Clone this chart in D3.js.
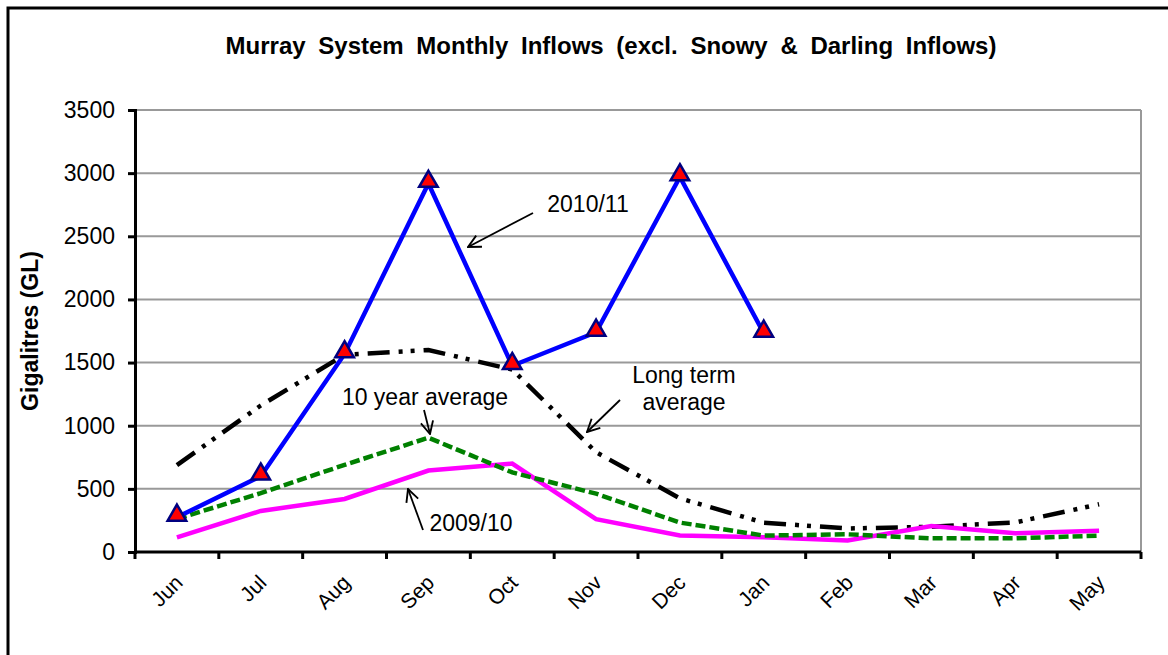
<!DOCTYPE html>
<html>
<head>
<meta charset="utf-8">
<script src="https://cdn.jsdelivr.net/npm/d3@7"></script>
<style>
  body { margin: 0; background: #fff; }
  svg { display: block; font-family: "Liberation Sans", Arial, sans-serif; }
</style>
</head>
<body>
<div id="chart"></div>
<script>
// chart data
const months = ["Jun", "Jul", "Aug", "Sep", "Oct", "Nov", "Dec", "Jan", "Feb", "Mar", "Apr", "May"];
const inflow1011 = [275, 600, 1568, 2918, 1475, 1740, 2970, 1732, null, null, null, null];
const inflow0910 = [115, 325, 420, 645, 700, 260, 130, 117, 92, 205, 148, 168];
const tenYearAvg = [262, 466, 690, 905, 630, 462, 233, 130, 140, 108, 108, 130];
const longTermAvg = [688, 1160, 1562, 1600, 1445, 790, 425, 232, 186, 200, 234, 378];
const yTicks = [0, 500, 1000, 1500, 2000, 2500, 3000, 3500];

const W = 1168, H = 655;
const m = { left: 135, right: 27, top: 110, bottom: 103 };

const svg = d3.select("#chart").append("svg")
  .attr("width", W)
  .attr("height", H);

// outer chart frame
svg.append("rect")
  .attr("x", 8).attr("y", 8)
  .attr("width", W + 20).attr("height", H + 20)
  .attr("fill", "none").attr("stroke", "#000").attr("stroke-width", 3);

const x = d3.scaleBand()
  .domain(months)
  .range([m.left, W - m.right])
  .padding(0);

const y = d3.scaleLinear()
  .domain([0, 3500])
  .range([H - m.bottom, m.top]);

const cx = d => x(d) + x.bandwidth() / 2;

// gridlines
svg.append("g")
  .selectAll("line")
  .data(yTicks.filter(d => d > 0))
  .enter()
  .append("line")
  .attr("x1", m.left).attr("x2", W - m.right)
  .attr("y1", d => y(d)).attr("y2", d => y(d))
  .attr("stroke", "#999").attr("stroke-width", 2);

// right border of plot area
svg.append("line")
  .attr("x1", W - m.right).attr("x2", W - m.right)
  .attr("y1", m.top).attr("y2", H - m.bottom)
  .attr("stroke", "#999").attr("stroke-width", 2);

// y axis
const yAxis = svg.append("g")
  .attr("transform", `translate(${m.left},0)`)
  .call(d3.axisLeft(y).tickValues(yTicks).tickSize(7).tickPadding(13).tickFormat(d3.format("d")));
yAxis.select(".domain").attr("stroke-width", 3);
yAxis.selectAll(".tick line").attr("stroke-width", 3);
yAxis.selectAll("text").attr("font-size", 23).attr("fill", "#000");

// x axis: ticks at category boundaries
const xAxis = svg.append("g")
  .attr("transform", `translate(0,${H - m.bottom})`)
  .call(d3.axisBottom(x).tickSize(0).tickPadding(0));
xAxis.select(".domain").attr("stroke-width", 3).attr("d", `M${m.left},0H${W - m.right}`);
xAxis.selectAll(".tick line").remove();
xAxis.selectAll(".tick text")
  .attr("font-size", 21)
  .attr("fill", "#000")
  .attr("text-anchor", "end")
  .attr("dy", 0)
  .attr("transform", "translate(7,32) rotate(-45)");
svg.append("g")
  .selectAll("line")
  .data(months.concat(["end"]))
  .enter()
  .append("line")
  .attr("x1", (d, i) => m.left + i * x.bandwidth())
  .attr("x2", (d, i) => m.left + i * x.bandwidth())
  .attr("y1", H - m.bottom).attr("y2", H - m.bottom + 7)
  .attr("stroke", "#000").attr("stroke-width", 3);

const line = d3.line()
  .defined(d => d.v != null)
  .x(d => cx(d.m))
  .y(d => y(d.v));

const pack = arr => months.map((mo, i) => ({ m: mo, v: arr[i] }));

svg.append("path")
  .datum(pack(longTermAvg))
  .attr("d", line)
  .attr("fill", "none").attr("stroke", "#000").attr("stroke-width", 4.5)
  .attr("stroke-dasharray", "22,9,4,8,4,9");

svg.append("path")
  .datum(pack(inflow0910))
  .attr("d", line)
  .attr("fill", "none").attr("stroke", "#ff00ff").attr("stroke-width", 4.5);

svg.append("path")
  .datum(pack(tenYearAvg))
  .attr("d", line)
  .attr("fill", "none").attr("stroke", "#008000").attr("stroke-width", 4.5)
  .attr("stroke-dasharray", "10,4");

svg.append("path")
  .datum(pack(inflow1011))
  .attr("d", line)
  .attr("fill", "none").attr("stroke", "#0000ff").attr("stroke-width", 4.5);

svg.append("g")
  .selectAll("path")
  .data(pack(inflow1011).filter(d => d.v != null))
  .enter()
  .append("path")
  .attr("d", d3.symbol().type(d3.symbolTriangle).size(150))
  .attr("transform", d => `translate(${cx(d.m)},${y(d.v) - 2})`)
  .attr("fill", "#ff0000").attr("stroke", "#000080").attr("stroke-width", 2.5);

// title and axis title
svg.append("text")
  .attr("x", 611).attr("y", 54)
  .attr("text-anchor", "middle")
  .attr("font-size", 24).attr("font-weight", "bold")
  .attr("word-spacing", 6)
  .text("Murray System Monthly Inflows (excl. Snowy & Darling Inflows)");

svg.append("text")
  .attr("transform", "translate(38,331) rotate(-90)")
  .attr("text-anchor", "middle")
  .attr("font-size", 23).attr("font-weight", "bold")
  .text("Gigalitres (GL)");

// annotations with arrows
svg.append("defs").append("marker")
  .attr("id", "arrow")
  .attr("viewBox", "0 0 12 12")
  .attr("refX", 11).attr("refY", 6)
  .attr("markerWidth", 15).attr("markerHeight", 15)
  .attr("markerUnits", "userSpaceOnUse")
  .attr("orient", "auto")
  .append("path")
  .attr("d", "M1,1L11,6L1,11")
  .attr("fill", "none").attr("stroke", "#000").attr("stroke-width", 1.5);

const notes = [
  { lines: ["2010/11"], tx: 588, ty: 212, x1: 533, y1: 213, x2: 468, y2: 247 },
  { lines: ["10 year average"], tx: 425, ty: 405, x1: 424, y1: 410, x2: 430, y2: 434 },
  { lines: ["2009/10"], tx: 471, ty: 531, x1: 423, y1: 530, x2: 408, y2: 489 },
  { lines: ["Long term", "average"], tx: 684, ty: 383, x1: 620, y1: 400, x2: 587, y2: 432 }
];

notes.forEach(n => {
  const t = svg.append("text")
    .attr("x", n.tx).attr("y", n.ty)
    .attr("text-anchor", "middle")
    .attr("font-size", 23);
  n.lines.forEach((l, i) => t.append("tspan").attr("x", n.tx).attr("dy", i ? 27 : 0).text(l));
  svg.append("line")
    .attr("x1", n.x1).attr("y1", n.y1).attr("x2", n.x2).attr("y2", n.y2)
    .attr("stroke", "#000").attr("stroke-width", 1.8)
    .attr("marker-end", "url(#arrow)");
});
</script>
</body>
</html>
